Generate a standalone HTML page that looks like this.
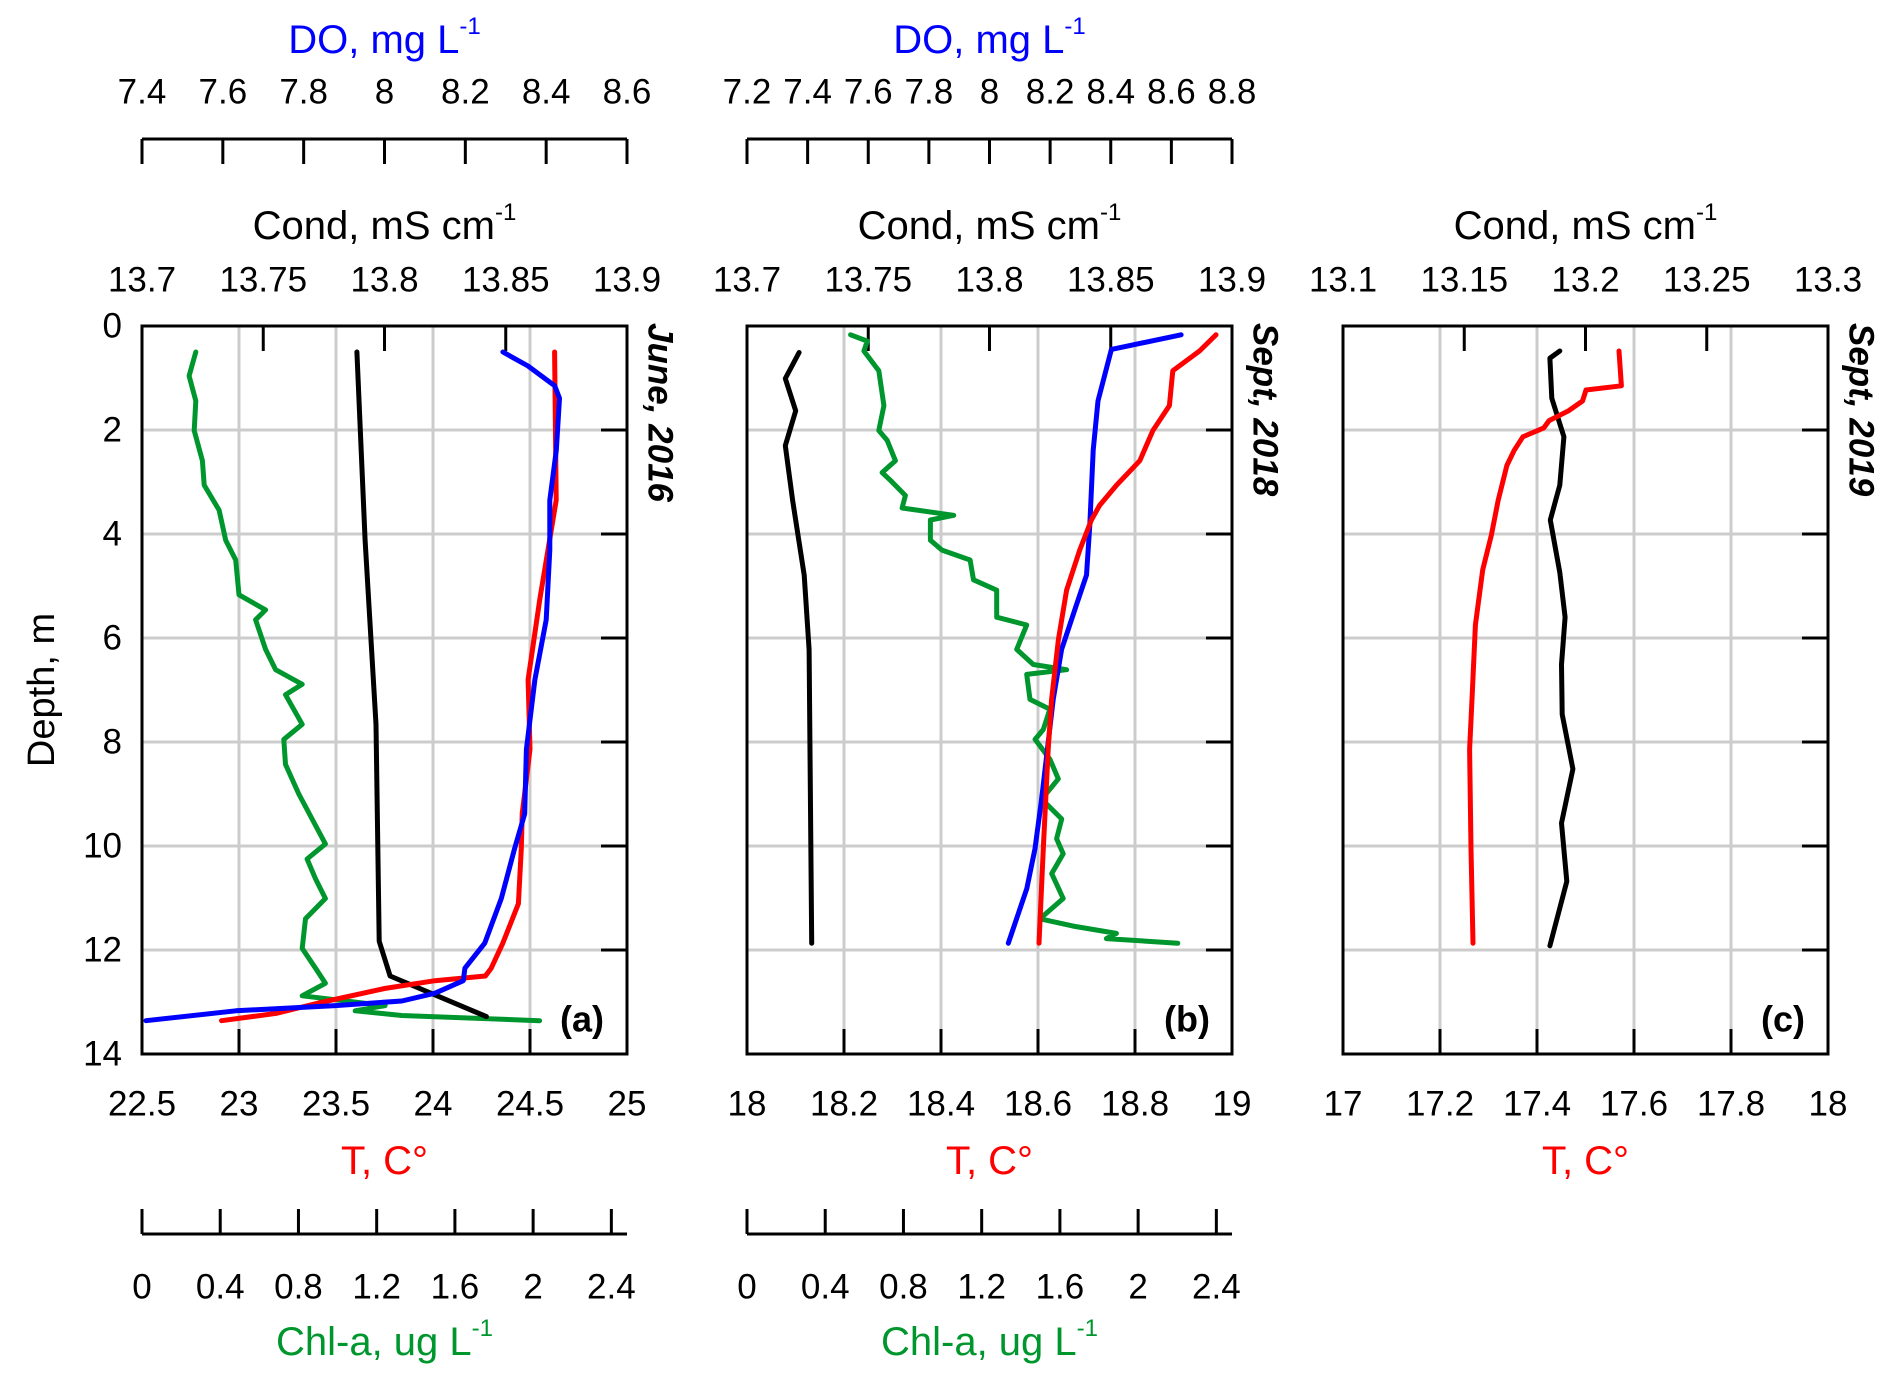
<!DOCTYPE html>
<html><head><meta charset="utf-8">
<style>
html,body{margin:0;padding:0;background:#fff;}
svg{display:block;font-family:"Liberation Sans",sans-serif;}
</style></head>
<body>
<svg id="chart" width="1892" height="1383" viewBox="0 0 1892 1383" xmlns="http://www.w3.org/2000/svg">
<text x="0" y="0" transform="translate(42,690) rotate(-90)" font-size="38" text-anchor="middle" dominant-baseline="central" fill="#000">Depth, m</text>
</svg>
<script>
// ---- data: depth (m) and value arrays for each series ----
const depthTicks = [0,2,4,6,8,10,12,14];
const panelNames = ['a','b','c'];
const panelDates = ['June, 2016','Sept, 2018','Sept, 2019'];
const tMin = [22.5,18,17], tMax=[25,19,18];
const tTicksA = [22.5,23,23.5,24,24.5,25];
const tTicksB = [18,18.2,18.4,18.6,18.8,19];
const tTicksC = [17,17.2,17.4,17.6,17.8,18];
const condTicksA = [13.7,13.75,13.8,13.85,13.9];
const condTicksB = [13.7,13.75,13.8,13.85,13.9];
const condTicksC = [13.1,13.15,13.2,13.25,13.3];
const doTicksA = [7.4,7.6,7.8,8,8.2,8.4,8.6];
const doTicksB = [7.2,7.4,7.6,7.8,8,8.2,8.4,8.6,8.8];
const chlTicks = [0,0.4,0.8,1.2,1.6,2,2.4];
const chlMax = 2.48;

// Panel a
const aTdepth = [0.5,3.35,5.27,6.80,8.14,9.38,10.05,11.11,11.87,12.35,12.50,12.59,12.74,13.02,13.22,13.36];
const aTval = [24.627,24.635,24.55,24.49,24.50,24.46,24.455,24.44,24.36,24.30,24.27,24.01,23.75,23.41,23.19,22.91];
const aDOdepth = [0.5,0.77,1.15,1.39,2.39,3.35,4.31,5.65,6.80,8.14,9.38,10.05,11.01,11.87,12.35,12.59,12.83,12.98,13.07,13.17,13.36];
const aDOval = [8.293,8.355,8.421,8.433,8.425,8.409,8.409,8.40,8.372,8.351,8.347,8.322,8.289,8.248,8.199,8.195,8.125,8.043,7.878,7.632,7.41];
const aCdepth = [0.5,4.12,7.66,11.83,12.50,13.28];
const aCval = [13.7886,13.792,13.7965,13.7978,13.8023,13.842];
const aChlDepth = [0.5,0.96,1.44,2.01,2.59,3.06,3.54,4.12,4.50,5.17,5.46,5.65,6.22,6.61,6.89,7.09,7.66,7.95,8.43,9.00,9.48,9.96,10.25,10.63,11.01,11.40,11.97,12.35,12.64,12.88,13.07,13.17,13.26,13.36];
const aChlVal = [0.275,0.241,0.275,0.267,0.309,0.318,0.394,0.428,0.479,0.496,0.632,0.581,0.632,0.683,0.819,0.734,0.819,0.725,0.734,0.802,0.870,0.938,0.844,0.887,0.938,0.836,0.819,0.887,0.938,0.819,1.243,1.09,1.328,2.033];

// Panel b
const bTdepth = [0.17,0.48,0.86,1.53,2.01,2.59,3.06,3.45,3.73,4.31,5.08,6.03,7.18,8.14,10.05,11.87];
const bTval = [18.967,18.933,18.878,18.871,18.837,18.81,18.762,18.727,18.71,18.686,18.659,18.642,18.628,18.621,18.611,18.602];
const bDOdepth = [0.17,0.45,1.44,2.39,3.83,4.79,5.36,6.22,7.18,9.10,10.05,10.82,11.87];
const bDOval = [8.632,8.402,8.358,8.342,8.331,8.32,8.287,8.238,8.21,8.172,8.15,8.123,8.062];
const bCdepth = [0.51,1.01,1.63,2.30,3.35,4.79,6.22,11.87];
const bCval = [13.7215,13.7158,13.7201,13.7158,13.7188,13.7236,13.7256,13.7267];
const bChlDepth = [0.17,0.29,0.48,0.86,1.53,2.01,2.20,2.59,2.82,2.97,3.26,3.50,3.64,3.73,4.12,4.31,4.50,4.88,5.08,5.60,5.75,6.22,6.51,6.61,6.70,7.18,7.37,7.76,7.95,8.33,8.71,9.10,9.48,9.86,10.15,10.53,11.01,11.40,11.54,11.68,11.78,11.87];
const bChlVal = [0.530,0.615,0.598,0.674,0.700,0.674,0.717,0.759,0.691,0.734,0.810,0.793,1.057,0.938,0.938,0.997,1.141,1.158,1.277,1.277,1.430,1.379,1.464,1.634,1.430,1.447,1.549,1.515,1.473,1.549,1.592,1.507,1.609,1.583,1.617,1.558,1.617,1.498,1.668,1.889,1.838,2.203];

// Panel c
const cTdepth = [0.48,1.15,1.23,1.44,1.63,1.82,1.96,2.13,2.39,2.68,3.35,4.02,4.69,5.75,7.18,8.14,10.05,11.87];
const cTval = [17.569,17.574,17.501,17.494,17.465,17.425,17.414,17.371,17.353,17.338,17.320,17.306,17.288,17.273,17.266,17.261,17.264,17.268];
const cCdepth = [0.48,0.62,1.39,2.13,3.06,3.73,4.74,5.60,6.51,7.47,8.52,9.56,10.68,11.92];
const cCval = [13.1894,13.1853,13.1861,13.1911,13.1894,13.1855,13.1894,13.1916,13.1901,13.1904,13.1948,13.1901,13.1923,13.1853];

const NS='http://www.w3.org/2000/svg';
const svg=document.getElementById('chart');
const boxLeft=[142,747,1343], W=485, TOP=326, BOT=1054;
const yOf=d=>TOP+(d/14)*(BOT-TOP);
function lin(a,b,x0){return v=>x0+(v-a)/(b-a)*W;}
function mk(tag,attrs,parent){const e=document.createElementNS(NS,tag);for(const k in attrs)e.setAttribute(k,attrs[k]);(parent||svg).appendChild(e);return e;}
function txt(s,x,y,size,fill,anchor,extra){const t=mk('text',Object.assign({x:x,y:y,'font-size':size,fill:fill,'text-anchor':anchor||'middle','dominant-baseline':'central'},extra||{}));t.textContent=s;return t;}
function fmt(v){return String(+v.toFixed(2));}
function titleSup(g,main,sup,x,y,size,fill){const t=mk('text',{x:x,y:y,'font-size':size,fill:fill,'text-anchor':'middle','dominant-baseline':'central'},g);t.textContent=main;if(sup){const s=mk('tspan',{'font-size':size*0.6,dy:-size*0.35},t);s.textContent=sup;}return t;}

const LBL=35, TTL=40;
const tTicks=[tTicksA,tTicksB,tTicksC];
const condTicks=[condTicksA,condTicksB,condTicksC];
const doTicks=[doTicksA,doTicksB,null];
const series=[
 {T:[aTdepth,aTval],DO:[aDOdepth,aDOval],C:[aCdepth,aCval],Chl:[aChlDepth,aChlVal]},
 {T:[bTdepth,bTval],DO:[bDOdepth,bDOval],C:[bCdepth,bCval],Chl:[bChlDepth,bChlVal]},
 {T:[cTdepth,cTval],C:[cCdepth,cCval]}
];

for(let p=0;p<3;p++){
  const x0=boxLeft[p], x1=x0+W;
  const g=mk('g',{});
  
  
  const tx=lin(tMin[p],tMax[p],x0);
  const ct=condTicks[p];
  const cx=lin(ct[0],ct[ct.length-1],x0);
  tTicks[p].forEach((v,i)=>{ if(i>0&&i<tTicks[p].length-1){const l=mk('line',{x1:tx(v),x2:tx(v),y1:TOP,y2:BOT,stroke:'#cccccc','stroke-width':3},g);}});
  depthTicks.forEach((d,i)=>{ if(i>0&&i<depthTicks.length-1){const l=mk('line',{x1:x0,x2:x1,y1:yOf(d),y2:yOf(d),stroke:'#cccccc','stroke-width':3},g);
     mk('line',{x1:x1,x2:x1-26,y1:yOf(d),y2:yOf(d),stroke:'#000','stroke-width':3},g);}});
  tTicks[p].forEach((v,i)=>{ if(i>0&&i<tTicks[p].length-1) mk('line',{x1:tx(v),x2:tx(v),y1:BOT,y2:BOT-25,stroke:'#000','stroke-width':3},g);});
  ct.forEach((v,i)=>{ if(i>0&&i<ct.length-1) mk('line',{x1:cx(v),x2:cx(v),y1:TOP,y2:TOP+25,stroke:'#000','stroke-width':3},g);});
  const s=series[p];
  const doT=doTicks[p];
  const defs=[['T','#ff0000',tx,'temperature-line']];
  defs.push(['C','#000000',cx,'conductivity-line']);
  if(s.DO) defs.push(['DO','#0000ff',lin(doT[0],doT[doT.length-1],x0),'do-line']);
  if(s.Chl) defs.push(['Chl','#00962e',lin(0,chlMax,x0),'chl-line']);
  const order=p===1?['C','Chl','DO','T']:['Chl','C','T','DO'];
  order.forEach(k=>{const dft=defs.find(d=>d[0]===k); if(!dft)return; const [dep,val]=s[k];
    const pts=dep.map((d,i)=>dft[2](val[i]).toFixed(1)+','+yOf(d).toFixed(1)).join(' ');
    const pl=mk('polyline',{points:pts,fill:'none',stroke:dft[1],'stroke-width':5,'stroke-linejoin':'round','stroke-linecap':'round'},g);
    
    });
  const r=mk('rect',{x:x0,y:TOP,width:W,height:BOT-TOP,fill:'none',stroke:'#000','stroke-width':3},g);
  
  
  tTicks[p].forEach(v=>{const t=txt(fmt(v),tx(v),1104,LBL,'#000');});
  const tt=txt('T, C°',x0+W/2,1161,TTL,'#ff0000');
  
  
  ct.forEach(v=>{const t=txt(fmt(v),cx(v),280,LBL,'#000');});
  const ctl=titleSup(g,'Cond, mS cm','-1',x0+W/2,226,TTL,'#000');
  
  
  if(doT){const dx=lin(doT[0],doT[doT.length-1],x0);
    mk('line',{x1:x0,x2:x1,y1:139,y2:139,stroke:'#000','stroke-width':3},g);
    doT.forEach(v=>{mk('line',{x1:dx(v),x2:dx(v),y1:139,y2:164,stroke:'#000','stroke-width':3},g);
      const t=txt(fmt(v),dx(v),92,LBL,'#000');});
    const dt=titleSup(g,'DO, mg L','-1',x0+W/2,40,TTL,'#0000ff');
    
    
    const hx=lin(0,chlMax,x0);
    mk('line',{x1:x0,x2:x1,y1:1234,y2:1234,stroke:'#000','stroke-width':3},g);
    chlTicks.forEach(v=>{mk('line',{x1:hx(v),x2:hx(v),y1:1234,y2:1209,stroke:'#000','stroke-width':3},g);
      const t=txt(fmt(v),hx(v),1287,LBL,'#000');});
    const ht=titleSup(g,'Chl-a, ug L','-1',x0+W/2,1342,TTL,'#00962e');
    
    
  }
  if(p===0) depthTicks.forEach(d=>{const t=txt(String(d),122,yOf(d),LBL,'#000','end');});
  const pl=txt('('+panelNames[p]+')',x1-45,1019,36,'#000','middle',{'font-weight':'bold'});
  
  
  const dl=mk('text',{x:0,y:0,transform:'translate('+(x1+33)+','+(TOP-3)+') rotate(90)','font-size':35,'font-weight':'bold','font-style':'italic',fill:'#000','text-anchor':'start','dominant-baseline':'central'},g);
  dl.textContent=panelDates[p];
  
  
}
</script>
</body></html>
